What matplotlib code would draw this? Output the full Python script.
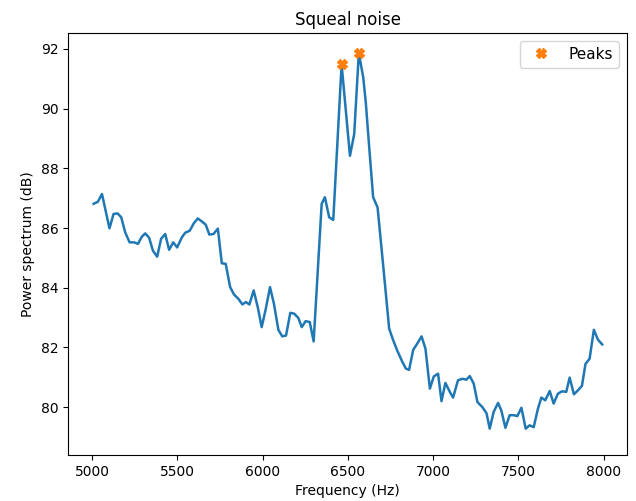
import numpy as np
import matplotlib.pyplot as plt

# spectrum samples (Hz, dB)
freq = [5008, 5033, 5057, 5101, 5125, 5148, 5170, 5193, 5219, 5246,
        5268, 5291, 5311, 5334, 5356, 5381, 5404, 5428, 5451, 5475,
        5498, 5526, 5545, 5572, 5596, 5619, 5643, 5666, 5687, 5711,
        5737, 5760, 5783, 5809, 5832, 5857, 5881, 5901, 5922, 5947,
        5971, 5994, 6018, 6043, 6066, 6092, 6115, 6137, 6162, 6185,
        6209, 6229, 6252, 6276, 6299, 6346, 6365, 6390, 6414, 6463,
        6512, 6537, 6564, 6590, 6605, 6625, 6648, 6674, 6708, 6742,
        6765, 6789, 6815, 6840, 6859, 6883, 6906, 6932, 6955, 6981,
        7004, 7029, 7049, 7072, 7098, 7117, 7146, 7172, 7195, 7215,
        7238, 7260, 7289, 7313, 7332, 7355, 7381, 7400, 7424, 7449,
        7474, 7494, 7518, 7543, 7566, 7590, 7615, 7635, 7658, 7684,
        7707, 7732, 7756, 7781, 7801, 7826, 7849, 7873, 7894, 7918,
        7943, 7967, 7992]
power = [86.81, 86.88, 87.14, 85.99, 86.47, 86.49, 86.36, 85.86, 85.52, 85.52,
         85.47, 85.71, 85.82, 85.67, 85.24, 85.04, 85.64, 85.80, 85.27, 85.52,
         85.35, 85.69, 85.84, 85.91, 86.16, 86.32, 86.22, 86.11, 85.78, 85.80,
         85.98, 84.82, 84.80, 84.02, 83.77, 83.63, 83.44, 83.52, 83.44, 83.91,
         83.35, 82.68, 83.29, 84.02, 83.46, 82.59, 82.37, 82.40, 83.16, 83.13,
         82.99, 82.68, 82.88, 82.85, 82.20, 86.81, 87.03, 86.36, 86.27, 91.48,
         88.42, 89.15, 91.86, 91.04, 90.20, 88.70, 87.03, 86.69, 84.68, 82.63,
         82.25, 81.90, 81.57, 81.29, 81.25, 81.92, 82.12, 82.37, 81.96, 80.62,
         81.03, 81.12, 80.20, 80.81, 80.51, 80.32, 80.90, 80.95, 80.92, 81.04,
         80.79, 80.17, 80.00, 79.80, 79.28, 79.84, 80.14, 79.89, 79.31, 79.73,
         79.73, 79.70, 79.98, 79.28, 79.39, 79.33, 79.95, 80.32, 80.23, 80.54,
         80.12, 80.45, 80.53, 80.51, 80.99, 80.43, 80.56, 80.71, 81.45, 81.62,
         82.59, 82.26, 82.10]
peak_idx = [59, 62]

freq = np.array(freq)
power = np.array(power)

fig, ax = plt.subplots(figsize=(6.36, 5.01), dpi=100)
fig.subplots_adjust(left=0.107, right=0.986, bottom=0.092, top=0.934)

ax.plot(freq, power, linewidth=1.8)
ax.plot(freq[peak_idx], power[peak_idx], 'X', markersize=7, label='Peaks')

ax.set_xlim(4858, 8138)
ax.set_ylim(78.4, 92.53)
ax.set_xticks([5000, 5500, 6000, 6500, 7000, 7500, 8000])
ax.set_xlabel('Frequency (Hz)')
ax.set_ylabel('Power spectrum (dB)')
ax.set_title('Squeal noise')
ax.legend(loc='upper right', fontsize=11)

plt.savefig('out.png')
